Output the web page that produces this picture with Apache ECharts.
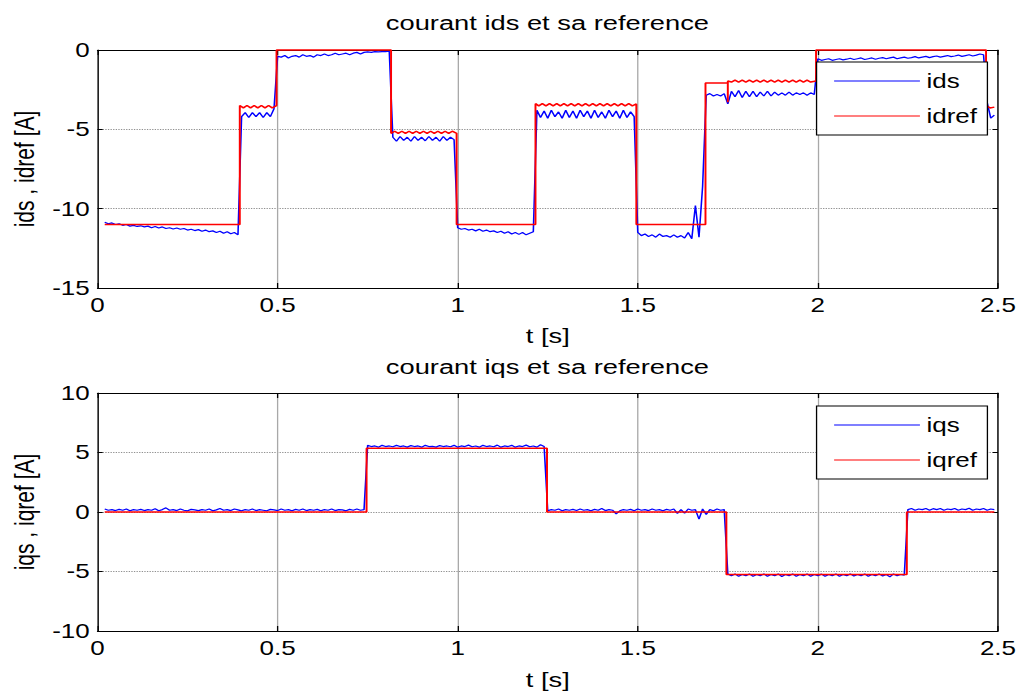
<!DOCTYPE html>
<html><head><meta charset="utf-8">
<script src="https://cdn.jsdelivr.net/npm/echarts/dist/echarts.min.js"></script>
<style>
html,body{margin:0;padding:0;background:#fff;overflow:hidden;}
#wrap{width:1022px;height:695px;overflow:hidden;position:relative;}
#chart{width:786px;height:695px;transform:scaleX(1.30025);transform-origin:0 0;}
</style></head><body><div id="wrap"><div id="chart"></div></div>
<script>
// ---- data ----
const xTicks = [0, 0.5, 1, 1.5, 2, 2.5];
const y1Ticks = [-15, -10, -5, 0];
const y2Ticks = [-10, -5, 0, 5, 10];

const t = [
0.02,0.03,0.04,0.05,0.06,0.07,0.08,0.09,0.10,0.11,
0.12,0.13,0.14,0.15,0.16,0.17,0.18,0.19,0.20,0.21,
0.22,0.23,0.24,0.25,0.26,0.27,0.28,0.29,0.30,0.31,
0.32,0.33,0.34,0.35,0.36,0.37,0.38,0.39,0.40,0.41,
0.42,0.43,0.44,0.45,0.46,0.47,0.48,0.49,0.50,0.51,
0.52,0.53,0.54,0.55,0.56,0.57,0.58,0.59,0.60,0.61,
0.62,0.63,0.64,0.65,0.66,0.67,0.68,0.69,0.70,0.71,
0.72,0.73,0.74,0.75,0.76,0.77,0.78,0.79,0.80,0.81,
0.82,0.83,0.84,0.85,0.86,0.87,0.88,0.89,0.90,0.91,
0.92,0.93,0.94,0.95,0.96,0.97,0.98,0.99,1.00,1.01,
1.02,1.03,1.04,1.05,1.06,1.07,1.08,1.09,1.10,1.11,
1.12,1.13,1.14,1.15,1.16,1.17,1.18,1.19,1.20,1.21,
1.22,1.23,1.24,1.25,1.26,1.27,1.28,1.29,1.30,1.31,
1.32,1.33,1.34,1.35,1.36,1.37,1.38,1.39,1.40,1.41,
1.42,1.43,1.44,1.45,1.46,1.47,1.48,1.49,1.50,1.51,
1.52,1.53,1.54,1.55,1.56,1.57,1.58,1.59,1.60,1.61,
1.62,1.63,1.64,1.65,1.66,1.67,1.68,1.69,1.70,1.71,
1.72,1.73,1.74,1.75,1.76,1.77,1.78,1.79,1.80,1.81,
1.82,1.83,1.84,1.85,1.86,1.87,1.88,1.89,1.90,1.91,
1.92,1.93,1.94,1.95,1.96,1.97,1.98,1.99,2.00,2.01,
2.02,2.03,2.04,2.05,2.06,2.07,2.08,2.09,2.10,2.11,
2.12,2.13,2.14,2.15,2.16,2.17,2.18,2.19,2.20,2.21,
2.22,2.23,2.24,2.25,2.26,2.27,2.28,2.29,2.30,2.31,
2.32,2.33,2.34,2.35,2.36,2.37,2.38,2.39,2.40,2.41,
2.42,2.43,2.44,2.45,2.46,2.47,2.48,2.49
];

const ids = [
-10.85,-10.95,-10.9,-11.0,-10.95,-11.05,-11.0,-11.1,-11.05,-11.12,-11.08,-11.15,-11.1,-11.2,-11.12,-11.22,-11.15,-11.25,-11.2,-11.28,-11.22,-11.3,-11.25,-11.35,-11.3,-11.38,-11.32,-11.42,-11.35,-11.45,-11.4,-11.5,-11.42,-11.55,-11.45,-11.58,-11.5,-11.65,
-4.2,-3.95,-4.25,-3.95,-4.2,-3.95,-4.25,-3.95,-4.2,-3.7,
-0.4,-0.45,-0.35,-0.5,-0.4,-0.35,-0.45,-0.3,-0.4,-0.35,-0.45,-0.3,-0.35,-0.25,-0.35,-0.3,-0.2,-0.3,-0.25,-0.2,-0.3,-0.2,-0.15,-0.25,-0.15,-0.12,-0.15,-0.1,-0.12,-0.1,-0.1,-0.08,
-5.5,-5.75,-5.45,-5.7,-5.5,-5.75,-5.45,-5.7,-5.5,-5.72,-5.45,-5.7,-5.5,-5.75,-5.45,-5.7,-5.5,-5.65,
-11.2,-11.3,-11.25,-11.35,-11.3,-11.4,-11.3,-11.42,-11.35,-11.45,-11.4,-11.5,-11.42,-11.55,-11.45,-11.6,-11.5,-11.62,-11.5,-11.65,-11.55,-11.45,
-3.8,-4.25,-3.85,-4.3,-3.8,-4.2,-3.9,-4.3,-3.8,-4.25,-3.85,-4.3,-3.8,-4.2,-3.85,-4.3,-3.8,-4.25,-3.9,-4.3,-3.8,-4.2,-3.85,-4.3,-3.8,-4.25,-3.9,-4.2,
-11.5,-11.7,-11.6,-11.75,-11.65,-11.8,-11.6,-11.75,-11.7,-11.8,-11.65,-11.8,-11.7,-11.85,-11.5,-11.9,-9.8,-11.8,-8.6,
-2.85,-2.75,-2.9,-2.8,-2.9,-2.75,
-3.4,
-2.6,-2.95,-2.55,-3.0,-2.6,-2.95,-2.6,-2.95,-2.65,-2.9,-2.6,-2.9,-2.65,-2.85,-2.7,-2.85,-2.65,-2.85,-2.7,-2.8,-2.7,-2.85,-2.7,-2.8,
-0.55,-0.65,-0.6,-0.55,-0.65,-0.6,-0.55,-0.62,-0.58,-0.52,
-0.6,-0.55,-0.5,-0.6,-0.55,-0.5,-0.58,-0.52,-0.48,-0.55,
-0.5,-0.45,-0.55,-0.5,-0.45,-0.52,-0.48,-0.42,-0.5,-0.45,
-0.4,-0.48,-0.42,-0.38,-0.45,-0.4,-0.35,-0.42,-0.38,-0.32,
-0.4,-0.35,-0.3,-0.38,-0.32,-0.25,-0.3,
-3.3,-4.3,-4.1
];

const idref = [
[0.02,-11],[0.395,-11],
[0.395,-3.5],[0.405,-3.65],[0.415,-3.5],[0.425,-3.65],[0.435,-3.5],[0.445,-3.65],[0.455,-3.5],[0.465,-3.65],[0.475,-3.5],[0.485,-3.65],[0.497,-3.5],
[0.497,0],[0.815,0],
[0.815,-5.25],[0.825,-5.12],[0.835,-5.25],[0.845,-5.12],[0.855,-5.25],[0.865,-5.12],[0.875,-5.25],[0.885,-5.12],[0.895,-5.25],[0.905,-5.12],[0.915,-5.25],[0.925,-5.12],[0.935,-5.25],[0.945,-5.12],[0.955,-5.25],[0.965,-5.12],[0.975,-5.25],[0.985,-5.12],[0.997,-5.25],
[0.997,-11],[1.216,-11],
[1.216,-3.38],[1.225,-3.52],[1.235,-3.38],[1.245,-3.52],[1.255,-3.38],[1.265,-3.52],[1.275,-3.38],[1.285,-3.52],[1.295,-3.38],[1.305,-3.52],[1.315,-3.38],[1.325,-3.52],[1.335,-3.38],[1.345,-3.52],[1.355,-3.38],[1.365,-3.52],[1.375,-3.38],[1.385,-3.52],[1.395,-3.38],[1.405,-3.52],[1.415,-3.38],[1.425,-3.52],[1.435,-3.38],[1.445,-3.52],[1.455,-3.38],[1.465,-3.52],[1.475,-3.38],[1.485,-3.52],[1.496,-3.4],
[1.496,-11],[1.688,-11],
[1.688,-2.08],[1.75,-2.08],[1.75,-3.3],[1.75,-1.95],
[1.76,-2.02],[1.77,-1.9],[1.78,-2.02],[1.79,-1.9],[1.80,-2.02],[1.81,-1.9],[1.82,-2.02],[1.83,-1.9],[1.84,-2.02],[1.85,-1.9],[1.86,-2.02],[1.87,-1.9],[1.88,-2.02],[1.89,-1.9],[1.90,-2.02],[1.91,-1.9],[1.92,-2.02],[1.93,-1.9],[1.94,-2.02],[1.95,-1.9],[1.96,-2.02],[1.97,-1.9],[1.98,-2.02],[1.995,-1.95],
[1.995,0],[2.467,0],
[2.467,-3.5],[2.478,-3.65],[2.49,-3.6]
];

const iqs = [
0.25,0.15,0.2,0.12,0.22,0.15,0.25,0.1,0.2,0.15,
0.22,0.12,0.2,0.15,0.28,0.1,0.2,0.35,0.15,0.2,
0.12,0.25,0.15,0.1,0.22,0.18,0.12,0.2,0.15,0.25,
0.1,0.18,0.3,0.15,0.2,0.12,0.25,0.18,0.1,0.2,
0.15,0.25,0.12,0.2,0.15,0.1,0.22,0.18,0.12,0.25,
0.15,0.2,0.1,0.22,0.15,0.25,0.12,0.2,0.15,0.22,
0.1,0.2,0.15,0.25,0.12,0.2,0.18,0.1,0.22,0.15,
0.25,0.15,0.2,
5.6,5.5,5.55,5.45,5.6,5.5,5.55,5.48,5.6,5.5,
5.55,5.45,5.58,5.5,5.55,5.45,5.6,5.5,5.52,5.45,
5.58,5.5,5.55,5.48,5.6,5.45,5.55,5.5,5.62,5.48,
5.55,5.45,5.6,5.5,5.55,5.48,5.62,5.45,5.55,5.5,
5.6,5.45,5.55,5.5,5.62,5.48,5.55,5.45,5.65,5.5,
0.1,0.2,0.15,0.25,0.1,0.2,0.15,0.22,0.12,0.25,
0.15,0.2,0.1,0.22,0.15,0.3,0.12,0.2,0.15,-0.15,
0.1,0.2,0.15,0.22,0.1,0.25,0.15,0.2,0.12,0.25,
0.15,0.2,0.1,0.22,0.15,0.25,-0.12,0.2,-0.1,0.25,
0.15,0.2,-0.6,0.25,-0.2,0.2,0.1,0.25,0.15,0.2,
-5.2,-5.35,-5.2,-5.4,-5.25,-5.35,-5.2,-5.4,-5.25,-5.35,
-5.2,-5.4,-5.25,-5.35,-5.2,-5.42,-5.25,-5.35,-5.2,-5.4,
-5.25,-5.35,-5.2,-5.4,-5.25,-5.35,-5.22,-5.4,-5.25,-5.35,
-5.2,-5.4,-5.25,-5.35,-5.2,-5.38,-5.25,-5.35,-5.2,-5.4,
-5.25,-5.35,-5.2,-5.38,-5.25,-5.45,-5.2,-5.35,-5.25,-5.3,
0.2,0.3,0.15,0.25,0.2,0.3,0.15,0.28,0.2,0.3,
0.15,0.25,0.2,0.3,0.15,0.25,0.2,0.32,0.15,0.25,
0.2,0.3,0.15,0.25,0.2
];

const iqref = [
[0.02,0],[0.747,0],[0.747,5.35],[1.248,5.35],[1.248,0],[1.746,0],[1.746,-5.25],[2.247,-5.25],[2.247,0],[2.49,0]
];

// ---- chart ----
const FONT = "'Liberation Sans', Arial, Helvetica, sans-serif";
const BLUE = '#0000ff', RED = '#ff0000';
const pairs = (xs, ys) => xs.slice(0, Math.min(xs.length, ys.length)).map((x, i) => [x, ys[i]]);

function xAx(grid, pos, main, gap) {
  return {
    type: 'value', gridIndex: grid, position: pos,
    min: xTicks[0], max: xTicks[xTicks.length - 1], interval: xTicks[1] - xTicks[0],
    axisLine: { show: true, onZero: false, lineStyle: { color: '#000', width: 1 } },
    axisTick: { show: true, inside: true, length: 5, lineStyle: { color: '#000', width: 1 } },
    axisLabel: { show: main, margin: 7, color: '#000', fontSize: 20, fontFamily: FONT },
    splitLine: { show: main, lineStyle: { color: '#a8a8a8', width: 1 } },
    name: main ? 't [s]' : '', nameLocation: 'middle', nameGap: gap,
    nameTextStyle: { color: '#000', fontSize: 21, fontFamily: FONT }
  };
}
function yAx(grid, pos, main, ticks, name) {
  return {
    type: 'value', gridIndex: grid, position: pos,
    min: ticks[0], max: ticks[ticks.length - 1], interval: ticks[1] - ticks[0],
    axisLine: { show: true, onZero: false, lineStyle: { color: '#000', width: 1 } },
    axisTick: { show: true, inside: true, length: 4, lineStyle: { color: '#000', width: 1 } },
    axisLabel: { show: main, margin: 6, color: '#000', fontSize: 20, fontFamily: FONT },
    splitLine: { show: main, lineStyle: { color: '#909090', width: 1, type: [1, 1] } },
    name: main ? name : '', nameLocation: 'middle', nameGap: 45, nameRotate: 90,
    nameTextStyle: { color: '#000', fontSize: 21, fontFamily: FONT }
  };
}
function legend(names, top) {
  return {
    data: names, orient: 'vertical', left: 628, top: top,
    itemWidth: 66, itemHeight: 14, itemGap: 13,
    padding: [8, 8, 8, 13],
    backgroundColor: '#fff', borderColor: '#000', borderWidth: 1,
    itemStyle: { opacity: 0, color: 'rgba(0,0,0,0)', borderWidth: 0 },
    lineStyle: { width: 1 },
    textStyle: { color: '#000', fontSize: 20, fontFamily: FONT, lineHeight: 22 }
  };
}
function line(name, data, color, xi, yi, w) {
  return {
    type: 'line', name, data, xAxisIndex: xi, yAxisIndex: yi,
    symbol: 'none', clip: false, animation: false,
    lineStyle: { color, width: w }, itemStyle: { color }
  };
}

const chart = echarts.init(document.getElementById('chart'), null, { renderer: 'svg' });
chart.setOption({
  backgroundColor: '#fff',
  animation: false,
  title: [
    { text: 'courant ids et sa reference', left: 421, top: 12, textAlign: 'center', padding: 0,
      textStyle: { color: '#000', fontSize: 21, fontWeight: 'normal', fontFamily: FONT } },
    { text: 'courant iqs et sa reference', left: 421, top: 356, textAlign: 'center', padding: 0,
      textStyle: { color: '#000', fontSize: 21, fontWeight: 'normal', fontFamily: FONT } }
  ],
  grid: [
    { left: 75, right: 18.5, top: 50, height: 238 },
    { left: 75, right: 18.5, top: 393, height: 238 }
  ],
  xAxis: [xAx(0, 'bottom', true, 37), xAx(0, 'top', false, 0), xAx(1, 'bottom', true, 38), xAx(1, 'top', false, 0)],
  yAxis: [
    yAx(0, 'left', true, y1Ticks, 'ids , idref [A]'), yAx(0, 'right', false, y1Ticks, ''),
    yAx(1, 'left', true, y2Ticks, 'iqs , iqref [A]'), yAx(1, 'right', false, y2Ticks, '')
  ],
  legend: [legend(['ids', 'idref'], 62), legend(['iqs', 'iqref'], 406)],
  series: [
    line('ids', pairs(t, ids), BLUE, 0, 0, 1.2),
    line('idref', idref, RED, 0, 0, 1.5),
    line('iqs', pairs(t, iqs), BLUE, 2, 2, 1.2),
    line('iqref', iqref, RED, 2, 2, 1.5)
  ]
});
</script></body></html>
